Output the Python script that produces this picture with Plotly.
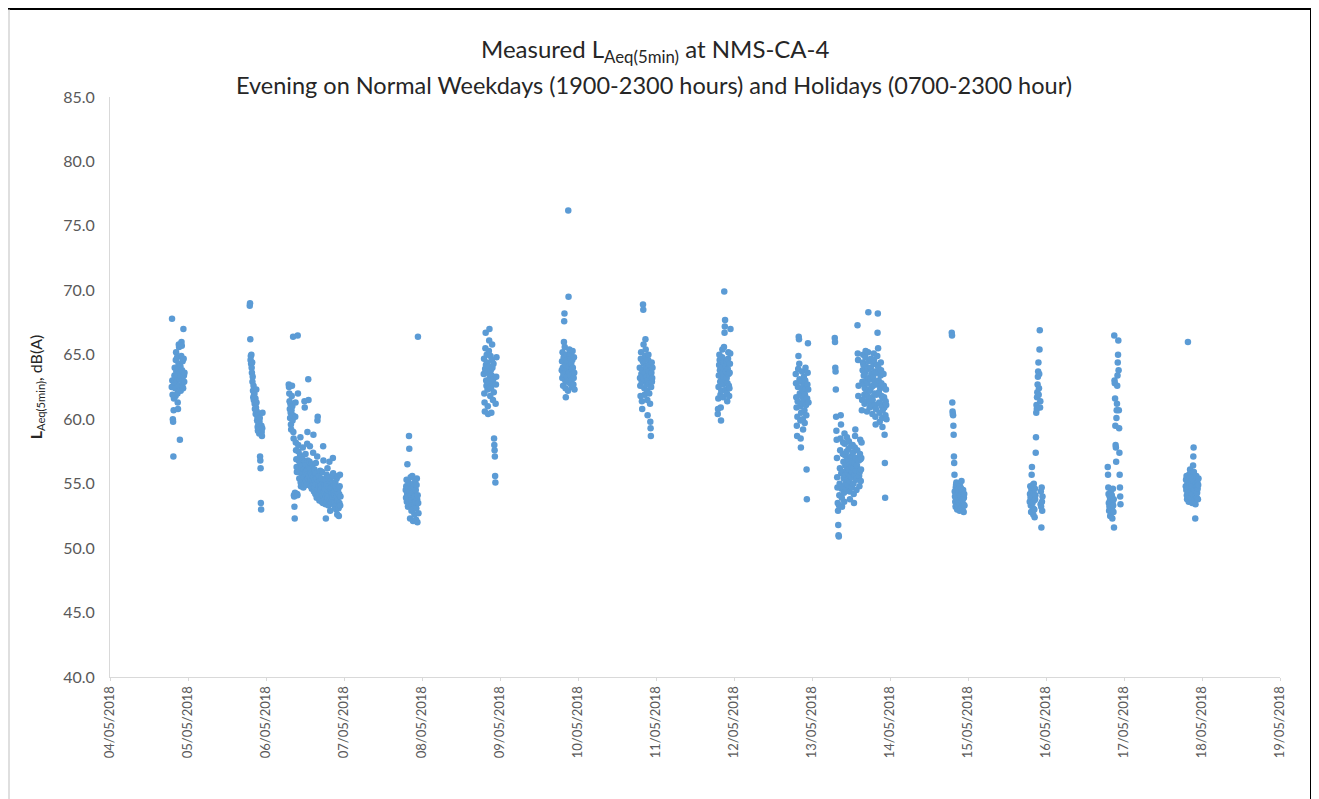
import pandas as pd
import plotly.graph_objects as go

# ---- Data: 5-minute LAeq values, in time order, per session ----
s_0405_start = "2018-05-04 19:00"
s_0405 = [62.5, 67.8, 63.0, 61.9, 60.0, 59.8, 57.1, 60.7, 61.6, 62.8, 63.4, 64.0, 63.2, 62.4, 61.8, 64.6,
          65.2, 63.7, 62.9, 63.5, 64.8, 62.0, 61.3, 60.8, 63.9, 64.3, 65.8, 65.6, 62.6, 63.1, 58.4, 63.6,
          64.1, 62.2, 63.3, 64.9, 66.0, 65.7, 63.8, 62.7, 64.5, 63.0, 62.4, 67.0, 64.7, 63.4, 62.9, 63.6]

s_0505_start = "2018-05-05 19:00"
s_0505 = [68.8, 69.0, 66.2, 64.6, 64.9, 64.3, 65.0, 64.0, 63.6, 64.4, 62.9, 63.3, 62.2, 61.7, 62.6, 61.5,
          61.9, 62.0, 61.2, 60.8, 61.4, 61.6, 60.4, 60.9, 62.3, 61.3, 60.6, 59.9, 60.2, 59.4, 59.1, 60.3,
          59.6, 60.0, 59.2, 58.9, 59.8, 60.1, 57.1, 56.8, 56.2, 53.5, 53.0, 59.5, 59.0, 58.7, 59.3, 60.5]

s_0605_start = "2018-05-06 07:00"
s_0605 = [62.7, 62.5, 62.0, 61.4, 60.8, 60.1, 61.2, 60.5, 59.6, 59.2, 60.7, 61.8,
          62.6, 61.0, 59.9, 60.3, 66.4, 59.0, 58.5, 54.1, 54.0, 53.2, 52.3, 54.3,
          60.2, 61.3, 58.2, 57.6, 56.9, 56.3, 55.9, 54.2, 54.1, 66.5, 62.0, 58.0,
          57.5, 56.8, 56.0, 55.4, 55.9, 56.6, 57.2, 58.6, 55.1, 54.8, 56.2, 57.0,
          55.6, 56.4, 55.8, 56.9, 57.8, 55.3, 54.7, 56.1, 55.5, 55.0, 61.4, 60.9,
          56.7, 55.9, 57.3, 56.5, 55.2, 54.9, 56.0, 55.7, 58.1, 59.0, 56.8, 55.4,
          63.1, 61.5, 56.3, 55.6, 55.1, 56.7, 57.9, 56.2, 55.3, 54.8, 55.8, 56.5,
          55.0, 54.6, 55.7, 56.4, 55.2, 54.9, 57.4, 58.8, 55.5, 54.4, 55.9, 56.1,
          54.7, 55.3, 54.2, 55.8, 56.6, 55.0, 54.5, 53.9, 55.4, 57.1, 59.9, 60.2,
          54.6, 55.1, 54.0, 54.8, 55.6, 53.7, 54.3, 55.2, 56.0, 54.5, 53.8, 54.9,
          55.4, 54.2, 53.6, 54.7, 55.9, 54.1, 53.5, 57.9, 56.8, 54.4, 53.9, 55.0,
          54.3, 53.8, 54.6, 55.3, 53.4, 52.3, 54.0, 54.9, 55.7, 53.6, 54.2, 56.2,
          54.5, 53.9, 54.8, 53.3, 54.1, 55.5, 56.7, 54.4, 53.7, 52.9, 54.6, 55.2,
          53.5, 54.2, 55.0, 54.7, 53.8, 54.0, 55.6, 57.0, 55.8, 54.3, 53.4, 54.9,
          54.1, 53.6, 53.2, 54.5, 55.1, 54.8, 53.9, 53.0, 54.4, 55.4, 54.0, 52.6,
          53.7, 54.3, 55.6, 54.6, 53.1, 52.5, 54.2, 53.5, 54.8, 55.7, 53.3, 54.0]

s_0705_start = "2018-05-07 19:00"
s_0705 = [54.5, 53.9, 54.8, 55.3, 53.6, 54.2, 56.5, 54.0, 53.2, 54.7, 55.1, 53.8, 58.7, 57.7, 54.4, 53.5,
          52.3, 54.9, 55.5, 54.1, 53.7, 52.9, 54.6, 53.3, 55.6, 54.3, 53.0, 52.1, 54.8, 55.0, 53.9, 54.2,
          52.6, 53.4, 54.0, 55.2, 53.6, 54.5, 52.2, 53.1, 54.9, 55.4, 53.8, 52.0, 54.1, 66.4, 53.5, 52.7]

s_0805_start = "2018-05-08 19:00"
s_0805 = [63.5, 64.7, 62.0, 61.3, 60.6, 63.9, 65.5, 66.7, 64.2, 63.0, 62.6, 65.0, 64.4, 63.6, 62.3, 61.0,
          60.4, 62.9, 64.1, 65.3, 66.1, 67.0, 63.2, 62.5, 61.8, 64.9, 63.8, 62.4, 60.5, 63.4, 64.6, 65.8,
          64.0, 62.8, 61.5, 63.1, 64.3, 62.1, 58.5, 58.0, 57.6, 57.1, 55.6, 55.1, 61.2, 62.7, 63.3, 64.8]

s_0905_start = "2018-05-09 19:00"
s_0905 = [63.8, 64.5, 63.2, 65.2, 64.0, 62.6, 63.5, 64.8, 66.0, 67.6, 68.2, 65.6, 64.2, 63.0, 62.4, 61.7,
          63.7, 64.6, 65.0, 63.3, 62.9, 64.4, 63.9, 62.2, 76.2, 69.5, 64.1, 63.6, 65.4, 64.9, 63.1, 62.8,
          63.4, 64.7, 65.1, 64.3, 63.0, 62.5, 63.9, 64.6, 65.3, 64.0, 63.5, 62.7, 63.2, 64.8, 63.6, 62.3]

s_1005_start = "2018-05-10 19:00"
s_1005 = [64.0, 63.2, 62.6, 61.8, 64.7, 65.2, 63.5, 62.9, 61.4, 60.8, 63.8, 64.5, 68.9, 68.5, 65.8, 64.3,
          63.1, 62.4, 61.9, 63.6, 64.9, 66.2, 65.4, 64.1, 63.3, 62.7, 63.9, 62.2, 61.5, 60.3, 63.0, 64.6,
          65.0, 63.7, 62.8, 62.0, 63.4, 64.2, 61.2, 59.8, 59.3, 58.7, 62.5, 63.6, 64.4, 62.9, 63.2, 64.0]

s_1105_start = "2018-05-11 19:00"
s_1105 = [60.4, 60.8, 61.6, 62.5, 63.4, 64.2, 65.0, 64.6, 63.8, 62.9, 61.9, 60.9, 59.9, 62.2, 63.1, 64.0,
          64.8, 65.4, 63.6, 62.7, 61.7, 63.3, 64.4, 65.6, 69.9, 66.7, 67.2, 67.7, 64.1, 63.0, 62.3, 63.7,
          64.5, 63.2, 62.0, 61.4, 62.8, 63.9, 64.7, 65.2, 63.5, 62.6, 61.8, 62.4, 63.6, 64.3, 65.1, 67.0]

s_1205_start = "2018-05-12 19:00"
s_1205 = [63.5, 62.8, 61.7, 60.9, 59.5, 58.7, 60.2, 61.4, 62.5, 63.9, 64.9, 66.4, 66.2, 64.3, 63.1, 62.0,
          61.0, 59.9, 58.5, 57.8, 60.5, 61.8, 62.9, 63.7, 62.2, 61.2, 60.0, 59.2, 61.5, 62.6, 63.3, 62.1,
          60.7, 59.7, 61.9, 63.0, 64.0, 62.4, 61.1, 60.3, 56.1, 53.8, 61.6, 62.7, 63.6, 65.9, 62.3, 61.3]

s_1305_start = "2018-05-13 07:00"
s_1305 = [66.3, 66.0, 64.0, 63.7, 62.3, 60.2, 59.1, 58.4, 57.0, 55.5, 54.7, 53.5,
          52.9, 51.8, 51.0, 50.9, 53.3, 54.1, 55.0, 56.2, 57.6, 58.5, 60.3, 59.6,
          55.8, 54.6, 53.9, 53.2, 54.8, 55.9, 57.3, 58.2, 56.7, 55.4, 54.3, 53.6,
          58.9, 58.1, 57.2, 56.4, 55.7, 55.1, 54.6, 56.0, 57.5, 58.6, 56.9, 55.3,
          54.9, 55.8, 56.8, 57.7, 58.3, 56.1, 55.2, 54.4, 53.8, 55.6, 56.5, 57.1,
          57.9, 56.3, 55.5, 54.7, 55.9, 56.7, 58.0, 57.4, 56.2, 55.0, 54.2, 53.5,
          55.7, 56.6, 57.8, 58.7, 59.2, 57.0, 56.0, 55.3, 54.5, 55.4, 56.4, 57.6,
          67.3, 65.1, 64.6, 61.8, 62.6, 56.8, 55.6, 54.8, 55.9, 57.3, 58.4, 56.9,
          55.2, 56.1, 57.0, 58.2, 60.7, 61.5, 62.9, 63.8, 64.4, 65.0, 64.2, 63.4,
          62.7, 61.9, 61.2, 62.4, 63.6, 64.8, 65.3, 64.1, 63.0, 62.1, 61.4, 60.6,
          61.8, 62.8, 63.9, 65.2, 68.3, 64.5, 63.2, 62.3, 61.6, 60.9, 61.3, 62.2,
          63.1, 64.0, 64.7, 63.5, 62.5, 61.7, 61.0, 60.4, 61.5, 62.6, 63.3, 64.3,
          65.1, 64.6, 63.7, 62.9, 62.0, 61.1, 60.2, 59.6, 60.8, 61.9, 62.7, 63.6,
          64.2, 64.9, 66.7, 68.2, 65.5, 64.0, 63.0, 62.1, 61.3, 60.5, 59.8, 61.2,
          62.4, 63.4, 64.4, 63.8, 62.8, 61.8, 61.0, 60.1, 59.4, 60.7, 61.6, 62.5,
          63.5, 62.6, 61.7, 60.9, 58.8, 56.6, 53.9, 60.3, 61.4, 62.3, 61.1, 60.0]

s_1405_start = "2018-05-14 19:00"
s_1405 = [66.7, 66.5, 61.3, 60.6, 60.4, 60.3, 59.5, 58.8, 57.1, 56.6, 55.7, 54.4, 54.0, 53.6, 53.2, 54.7,
          54.9, 55.1, 54.2, 53.4, 53.0, 54.5, 53.8, 53.3, 54.6, 53.9, 55.0, 54.3, 53.5, 52.9, 54.1, 54.8,
          53.7, 53.1, 54.0, 54.6, 55.2, 53.6, 53.2, 54.4, 53.0, 53.8, 54.5, 53.4, 52.8, 53.9, 54.2, 53.3]

s_1505_start = "2018-05-15 19:00"
s_1505 = [53.6, 54.2, 54.8, 53.9, 53.3, 52.8, 54.5, 55.7, 56.3, 54.0, 53.5, 54.9, 53.1, 52.6, 54.3, 55.0,
          53.7, 53.0, 52.4, 54.6, 53.8, 54.1, 57.4, 58.6, 60.5, 61.1, 60.8, 61.7, 62.1, 62.7, 63.3, 63.7,
          64.4, 61.9, 62.4, 63.5, 65.4, 66.9, 60.9, 61.4, 53.4, 54.4, 53.2, 51.6, 54.7, 53.6, 52.9, 54.0]

s_1605_start = "2018-05-16 19:00"
s_1605 = [56.3, 55.7, 54.7, 54.2, 53.5, 52.9, 53.2, 54.0, 53.7, 52.5, 53.9, 54.4, 53.1, 52.7, 53.4, 54.1,
          53.0, 52.3, 53.6, 54.6, 53.3, 52.8, 53.8, 51.6, 66.5, 63.0, 62.8, 61.6, 59.5, 58.0, 57.8, 56.7,
          60.1, 60.7, 61.2, 62.6, 63.4, 64.4, 65.0, 66.1, 63.8, 60.7, 59.3, 57.4, 55.7, 54.7, 54.0, 53.4]

s_1705_start = "2018-05-17 19:00"
s_1705 = [54.8, 55.3, 54.5, 55.6, 54.1, 53.8, 55.0, 54.6, 66.0, 55.2, 54.3, 53.6, 55.7, 54.9, 54.0, 55.4,
          56.1, 55.8, 54.4, 53.9, 54.7, 55.5, 55.1, 54.2, 53.5, 54.8, 55.3, 56.4, 57.1, 57.8, 55.9, 54.6,
          53.7, 54.5, 55.2, 52.3, 53.4, 54.1, 55.0, 55.6, 54.8, 53.9, 54.3, 55.1, 54.6, 53.8, 54.9, 55.4]

sessions = [
    (s_0405_start, s_0405), (s_0505_start, s_0505), (s_0605_start, s_0605),
    (s_0705_start, s_0705), (s_0805_start, s_0805), (s_0905_start, s_0905),
    (s_1005_start, s_1005), (s_1105_start, s_1105), (s_1205_start, s_1205),
    (s_1305_start, s_1305), (s_1405_start, s_1405), (s_1505_start, s_1505),
    (s_1605_start, s_1605), (s_1705_start, s_1705),
]

title_line1 = "Measured L<sub>Aeq(5min)</sub> at NMS-CA-4"
title_line2 = "Evening on Normal Weekdays (1900-2300 hours) and Holidays (0700-2300 hour)"
y_title = "<b>L</b><sub>Aeq(5min)</sub>, dB(A)"

xs, ys = [], []
for start, vals in sessions:
    times = pd.date_range(start=start, periods=len(vals), freq="5min")
    xs.extend(times)
    ys.extend(vals)

tick_dates = pd.date_range("2018-05-04", "2018-05-19", freq="D")
tick_labels = [d.strftime("%d/%m/%Y") for d in tick_dates]

FONT = "Lato, 'Open Sans', sans-serif"

fig = go.Figure()
fig.add_trace(go.Scatter(
    x=xs, y=ys, mode="markers",
    marker=dict(color="#5B9BD5", size=6.5, line=dict(width=0)),
    showlegend=False,
))

# page has an 8px body margin, so figure coords = screen coords - 8
L, T = 102, 89
PW, PH = 1170, 580
W, H = 1319, 799
R = W - L - PW
B = H - T - PH

def px(x):  # screen x -> paper
    return (x - 110) / PW

def py(y):  # screen y -> paper
    return (677 - y) / PH

fig.update_layout(
    width=W, height=H,
    margin=dict(l=L, r=R, t=T, b=B),
    paper_bgcolor="white", plot_bgcolor="white",
    font=dict(family=FONT, color="#595959"),
    xaxis=dict(
        type="date",
        range=[tick_dates[0], tick_dates[-1]],
        tickmode="array", tickvals=list(tick_dates), ticktext=tick_labels,
        tickangle=-90, tickfont=dict(family=FONT, size=13, color="#595959"),
        showgrid=False, zeroline=False,
        showline=True, linecolor="#D9D9D9", linewidth=1,
        ticks="outside", ticklen=3, tickcolor="#D9D9D9",
    ),
    yaxis=dict(
        range=[40, 85], dtick=5, tick0=40, tickformat=".1f",
        tickfont=dict(family=FONT, size=16, color="#595959"),
        showgrid=False, zeroline=False,
        showline=True, linecolor="#D9D9D9", linewidth=1,
        ticks="", ticklabelstandoff=11,
        title=dict(text=y_title,
                   font=dict(family=FONT, size=16, color="#262626"), standoff=16),
    ),
    annotations=[
        dict(text=title_line1, xref="paper", yref="paper", x=px(655), y=py(50),
             xanchor="center", yanchor="middle", showarrow=False,
             font=dict(family=FONT, size=24, color="#262626")),
        dict(text=title_line2, xref="paper", yref="paper", x=px(654), y=py(85),
             xanchor="center", yanchor="middle", showarrow=False,
             font=dict(family=FONT, size=23.5, color="#262626")),
    ],
    shapes=[
        dict(type="line", xref="paper", yref="paper", x0=px(8), x1=px(1313), y0=py(9), y1=py(9),
             line=dict(color="black", width=2)),
        dict(type="line", xref="paper", yref="paper", x0=px(1311), x1=px(1311), y0=py(9), y1=py(799),
             line=dict(color="black", width=2)),
        dict(type="line", xref="paper", yref="paper", x0=px(9), x1=px(9), y0=py(9), y1=py(799),
             line=dict(color="#BFBFBF", width=1)),
    ],
)

fig.write_html("out.html")
